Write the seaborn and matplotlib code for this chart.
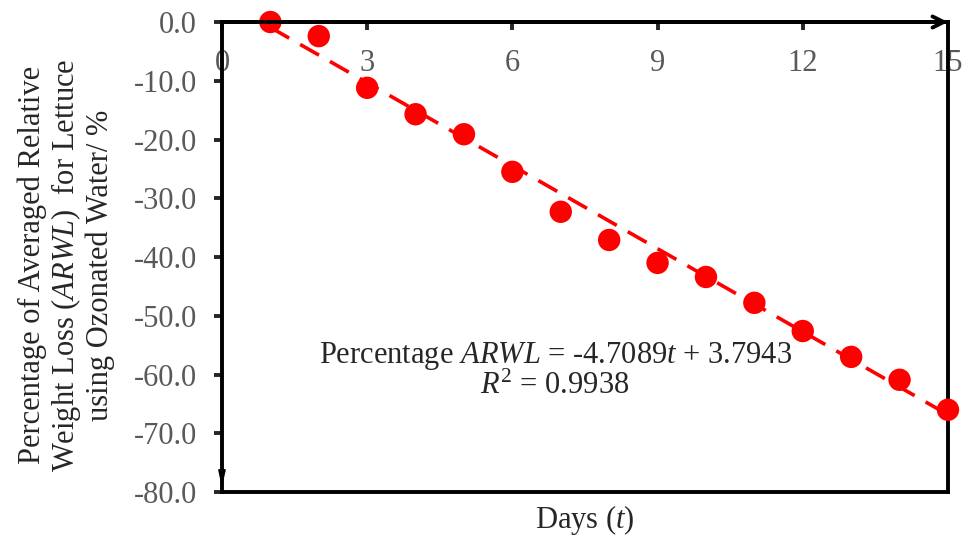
import numpy as np
import pandas as pd
import matplotlib
matplotlib.use('Agg')
import matplotlib.pyplot as plt
import seaborn as sns

# data
days = [1, 2, 3, 4, 5, 6, 7, 8, 9, 10, 11, 12, 13, 14, 15]
arwl = [0.0, -2.4, -11.2, -15.7, -19.1, -25.5, -32.3, -37.1, -41.0,
        -43.4, -47.8, -52.6, -57.0, -60.9, -66.0]
slope = -4.7089
intercept = 3.7943
r2 = 0.9938
x_ticks = [0, 3, 6, 9, 12, 15]
y_ticks = [0, -10, -20, -30, -40, -50, -60, -70, -80]

sns.set_style('white')
plt.rcParams['font.family'] = ['Liberation Serif', 'DejaVu Serif']
plt.rcParams['mathtext.fontset'] = 'custom'
plt.rcParams['mathtext.rm'] = 'Liberation Serif'
plt.rcParams['mathtext.it'] = 'Liberation Serif:italic'

df = pd.DataFrame({'day': days, 'arwl': arwl})
df['trend'] = slope * df['day'] + intercept

fig = plt.figure(figsize=(9.68, 5.37), dpi=100)
ax = fig.add_axes([0.2293, 0.0838, 0.75, 0.8752])

sns.lineplot(data=df, x='day', y='trend', color='red', lw=2.6, ax=ax, zorder=2)
ax.lines[-1].set_dashes((6, 3.5))
sns.scatterplot(data=df, x='day', y='arwl', color='red', s=260,
                edgecolor='none', ax=ax, zorder=3, clip_on=False)

ax.set_xlim(0, 15)
ax.set_ylim(-80, 0)
ax.set_xticks(x_ticks)
ax.set_yticks(y_ticks)
ax.set_yticklabels([f'{v:.1f}' for v in y_ticks])

for s in ax.spines.values():
    s.set_linewidth(2.8)
    s.set_color('black')
    s.set_visible(True)

ax.tick_params(axis='x', top=True, labeltop=True, bottom=False, labelbottom=False,
               direction='in', length=6, width=2.8, pad=-40,
               labelsize=22, labelcolor='#595959')
ax.tick_params(axis='y', left=True, direction='out', length=6, width=2.8,
               pad=12, labelsize=22, labelcolor='#595959')
ax.xaxis.set_label_position('bottom')

ax.set_xlabel('Days ($\\mathit{t}$)', fontsize=22, labelpad=8)
ax.set_ylabel('Percentage of Averaged Relative\n'
              'Weight Loss ($\\mathit{ARWL}$)  for Lettuce\n'
              'using Ozonated Water/ %', fontsize=22, linespacing=1.1)
ax.yaxis.set_label_coords(-0.147, 0.483)

# arrows on the axis lines
ax.annotate('', xy=(1, 1), xytext=(0, 1), xycoords='axes fraction',
            arrowprops=dict(arrowstyle='->,head_length=0.8,head_width=0.4',
                            lw=2.8, color='black', shrinkA=0, shrinkB=0))
ax.annotate('', xy=(0, 0.01), xytext=(0, 1), xycoords='axes fraction',
            arrowprops=dict(arrowstyle='-|>,head_length=0.9,head_width=0.2',
                            lw=1.5, color='black', shrinkA=0, shrinkB=0))

ax.text(0.459, 0.258,
        f'Percentage $\\mathit{{ARWL}}$ = {slope}$\\mathit{{t}}$ + {intercept}\n'
        f'$\\mathit{{R}}^2$ = {r2}',
        transform=ax.transAxes, ha='center', va='center', fontsize=22,
        linespacing=1.0)

fig.savefig('out.png', dpi=100)
